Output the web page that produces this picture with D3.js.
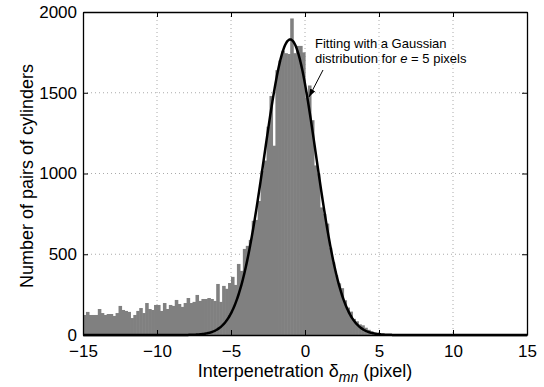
<!DOCTYPE html>
<html>
<head>
<meta charset="utf-8">
<script src="https://cdn.jsdelivr.net/npm/d3@7"></script>
<style>
  body { margin: 0; background: #fff; }
  text { font-family: "Liberation Sans", Arial, sans-serif; }
</style>
</head>
<body>
<div id="chart"></div>
<script>
// histogram bins: start at -15, width 0.2
var binStart = -15, binWidth = 0.2
var counts = [
  124,143,124,124,124,161,136,124,130,130,118,136,180,155,149,143,105,124,149,167,136,198,161,155,186,
  186,149,198,161,186,180,217,192,174,198,229,198,205,248,211,223,223,229,223,211,316,205,304,286,322,360,310,
  440,397,533,552,589,707,713,830,1017,1080,1290,1480,1172,1640,1700,1760,1745,1740,1960,1745,1790,1790,1750,
  1470,1545,1330,1050,1000,790,750,690,540,450,370,320,290,215,170,145,100,85,66,60,45,32,22,14,10,7,5,3,2,1
]
// fitted gaussian
var fitMean = -1, fitSigma = 1.75, fitPeak = 1830
var xTicks = [-15, -10, -5, 0, 5, 10, 15]
var yTicks = [0, 500, 1000, 1500, 2000]

const W = 544, H = 387
const margin = {top: 12, right: 17, bottom: 52, left: 83},
    width = W - margin.left - margin.right,
    height = H - margin.top - margin.bottom

var svg = d3.select("#chart").append("svg")
  .attr("width", W).attr("height", H)

var g = svg.append("g")
  .attr("transform", "translate(" + margin.left + "," + margin.top + ")")

var x = d3.scaleLinear().domain([-15, 15]).range([0, width])
var y = d3.scaleLinear().domain([0, 2000]).range([height, 0])

// grid
g.selectAll(".gx").data(xTicks.slice(1, -1)).enter().append("line")
  .attr("x1", d => x(d)).attr("x2", d => x(d))
  .attr("y1", 0).attr("y2", height)
  .attr("stroke", "#aaa").attr("stroke-width", 1).attr("stroke-dasharray", "1,3")
g.selectAll(".gy").data(yTicks.slice(1, -1)).enter().append("line")
  .attr("y1", d => y(d)).attr("y2", d => y(d))
  .attr("x1", 0).attr("x2", width)
  .attr("stroke", "#aaa").attr("stroke-width", 1).attr("stroke-dasharray", "1,3")

// bars
var bins = counts.map((c, i) => ({x0: binStart + i * binWidth, x1: binStart + (i + 1) * binWidth, n: c}))
g.selectAll(".bar").data(bins).enter().append("rect")
  .attr("x", d => x(d.x0))
  .attr("width", d => x(d.x1) - x(d.x0) + 0.6)
  .attr("y", d => y(d.n))
  .attr("height", d => y(0) - y(d.n))
  .attr("fill", "#808080")

// gaussian fit
var fitX = d3.range(-15, 15.001, 0.05)
var line = d3.line()
  .x(d => x(d))
  .y(d => y(fitPeak * Math.exp(-Math.pow(d - fitMean, 2) / (2 * fitSigma * fitSigma))))
g.append("path").datum(fitX)
  .attr("d", line)
  .attr("fill", "none").attr("stroke", "#000").attr("stroke-width", 2.5)

// axes with inward ticks on all four sides
var fmt = d3.format("d")
g.append("g").attr("transform", "translate(0," + height + ")")
  .call(d3.axisBottom(x).tickValues(xTicks).tickSizeInner(-5).tickSizeOuter(0).tickPadding(10).tickFormat(fmt))
g.append("g")
  .call(d3.axisTop(x).tickValues(xTicks).tickSizeInner(-5).tickSizeOuter(0).tickFormat(""))
g.append("g")
  .call(d3.axisLeft(y).tickValues(yTicks).tickSizeInner(-5).tickSizeOuter(0).tickPadding(6).tickFormat(fmt))
g.append("g").attr("transform", "translate(" + width + ",0)")
  .call(d3.axisRight(y).tickValues(yTicks).tickSizeInner(-5).tickSizeOuter(0).tickFormat(""))

g.selectAll(".domain").attr("stroke", "#000").attr("stroke-width", 1.3)
g.selectAll(".tick line").attr("stroke", "#000")
g.selectAll(".tick text").attr("font-size", "17px").attr("fill", "#000")
  .style("font-family", "'Liberation Sans', Arial, sans-serif")

// axis titles
var xt = svg.append("text")
  .attr("x", 305).attr("y", 377)
  .attr("text-anchor", "middle")
  .attr("font-size", "18px")
xt.append("tspan").text("Interpenetration δ")
xt.append("tspan").attr("dy", 5).attr("font-size", "14px").attr("font-style", "italic").text("mn")
xt.append("tspan").attr("dy", -5).text(" (pixel)")

svg.append("text")
  .attr("transform", "translate(33,176) rotate(-90)")
  .attr("text-anchor", "middle")
  .attr("font-size", "18px")
  .text("Number of pairs of cylinders")

// annotation
svg.append("defs").append("marker")
  .attr("id", "arr").attr("viewBox", "0 0 10 10")
  .attr("refX", 10).attr("refY", 5)
  .attr("markerWidth", 8).attr("markerHeight", 8)
  .attr("orient", "auto")
  .append("path").attr("d", "M0,1.5 L10,5 L0,8.5 Z").attr("fill", "#000")

svg.append("line")
  .attr("x1", 323).attr("y1", 70).attr("x2", 309).attr("y2", 97)
  .attr("stroke", "#000").attr("stroke-width", 1)
  .attr("marker-end", "url(#arr)")

svg.append("text").attr("x", 315).attr("y", 48).attr("font-size", "13px")
  .text("Fitting with a Gaussian")
var t2 = svg.append("text").attr("x", 315).attr("y", 63).attr("font-size", "13px")
t2.append("tspan").text("distribution for ")
t2.append("tspan").attr("font-style", "italic").text("e")
t2.append("tspan").text(" = 5 pixels")
</script>
</body>
</html>
